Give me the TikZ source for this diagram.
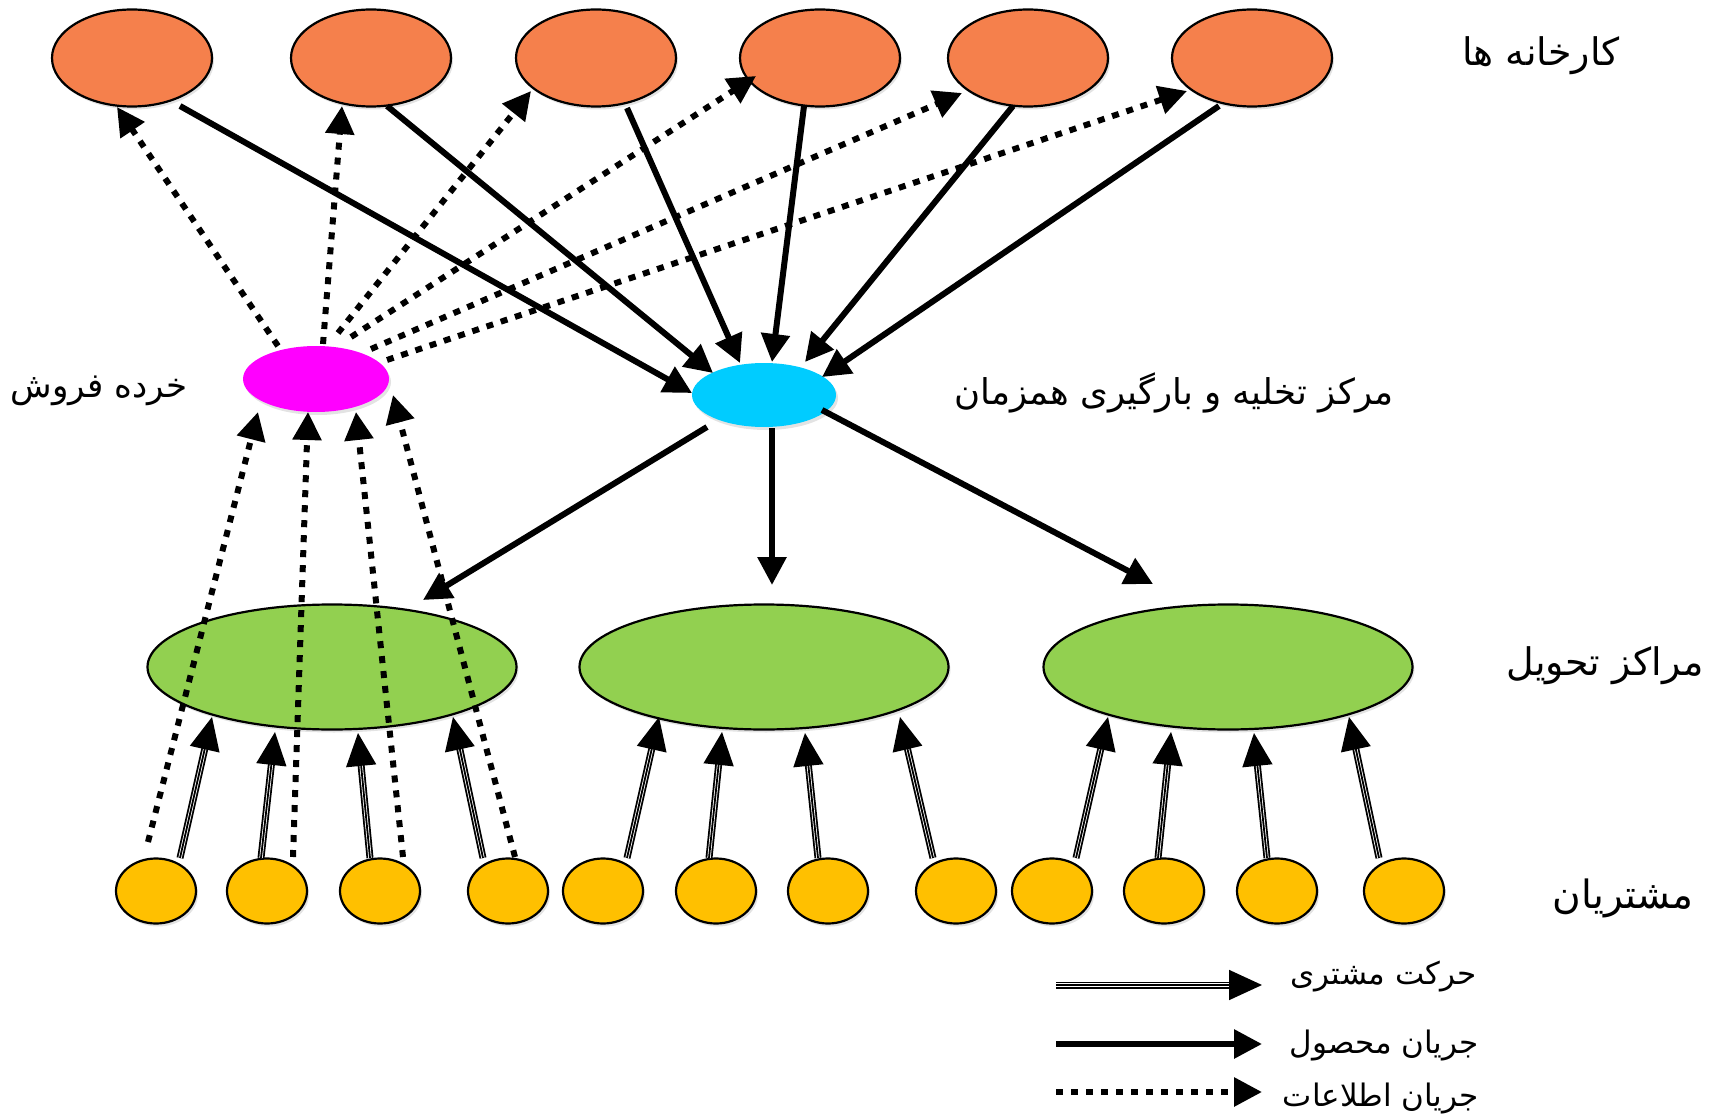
\documentclass[tikz,border=0pt]{standalone}
\usepackage{fontspec}
\usetikzlibrary{arrows.meta,calc,shadows,shapes.geometric}
\newfontfamily\fa[Script=Arabic]{DejaVu Sans}
\TeXXeTstate=1
\definecolor{factoryC}{HTML}{F5804C}
\definecolor{retailC}{HTML}{FF00FF}
\definecolor{dockC}{HTML}{00CCFF}
\definecolor{centerC}{HTML}{92D050}
\definecolor{custC}{HTML}{FFC000}
\newcommand\faText[1]{\fa\beginR #1\endR}
\begin{document}
\begin{tikzpicture}[x=1pt,y=-1pt,
  ell/.style={ellipse, inner sep=0pt, drop shadow={opacity=0.22, shadow xshift=2pt, shadow yshift=-3pt}},
  factory/.style={ell, draw=black, line width=2.2pt, fill=factoryC, minimum width=160pt, minimum height=97pt},
  retail/.style={ell, fill=retailC, minimum width=146pt, minimum height=66pt},
  dock/.style={ell, fill=dockC, minimum width=144pt, minimum height=64pt},
  dcenter/.style={ell, draw=black, line width=2.2pt, fill=centerC, minimum width=369pt, minimum height=125pt},
  cust/.style={ell, draw=black, line width=2.2pt, fill=custC, minimum width=80pt, minimum height=65pt},
  lbl/.style={font=\fa, inner sep=0pt},
  prod/.style={line width=6pt, -{Triangle[length=28pt,width=28pt]}},
  info/.style={line width=6pt, dash pattern=on 7pt off 8pt, -{Triangle[length=28pt,width=28pt]}},
  trishaft/.style={line width=1.8pt, double distance=3.4pt, shorten >=30pt},
  trihead/.style={line width=1.8pt, -{Triangle[length=33pt,width=30pt]}}
]
\useasboundingbox (0,0) rectangle (1711,1115);

% factories
\node[factory] (f1) at (132,58) {};
\node[factory] (f2) at (371,58) {};
\node[factory] (f3) at (596,58) {};
\node[factory] (f4) at (820,58) {};
\node[factory] (f5) at (1028,58) {};
\node[factory] (f6) at (1252,58) {};

% retailer and cross-dock
\node[retail] (r) at (316,379) {};
\node[dock] (cd) at (764,395) {};

% delivery centers
\node[dcenter] (g1) at (332,667) {};
\node[dcenter] (g2) at (764,667) {};
\node[dcenter] (g3) at (1228,667) {};

% customers
\foreach \i/\x in {1/156,2/267,3/380,4/508,5/603,6/716,7/828,8/956,9/1052,10/1164,11/1277,12/1404}
  \node[cust] (c\i) at (\x,891) {};

% labels
\node[lbl, font=\fontsize{38}{44}\selectfont\fa] (tf) at (1541,56) {\faText{کارخانه ها}};
\node[lbl, font=\fontsize{34}{40}\selectfont\fa] (tr) at (99,391) {\faText{خرده فروش}};
\node[lbl, font=\fontsize{35.5}{42}\selectfont\fa] (td) at (1174,393) {\faText{مرکز تخلیه و بارگیری همزمان}};
\node[lbl, font=\fontsize{38}{44}\selectfont\fa] (tg) at (1605,666) {\faText{مراکز تحویل}};
\node[lbl, font=\fontsize{39}{46}\selectfont\fa] (tc) at (1623,898) {\faText{مشتریان}};

% product flow: factories -> cross-dock
\draw[prod] ($(f1)+(48,48)$) -- ($(cd)+(-72,-2)$);
\draw[prod] ($(f2)+(16,48)$) -- ($(cd)+(-51,-22)$);
\draw[prod] ($(f3)+(31,50)$) -- ($(cd)+(-24,-32)$);
\draw[prod] ($(f4)+(-16,48)$) -- ($(cd)+(8,-33)$);
\draw[prod] ($(f5)+(-15,48)$) -- ($(cd)+(41,-33)$);
\draw[prod] ($(f6)+(-33,48)$) -- ($(cd)+(58,-18)$);

% product flow: cross-dock -> delivery centers
\draw[prod] ($(cd)+(-57,32)$) -- ($(g1)+(91,-67)$);
\draw[prod] ($(cd)+(8,33)$) -- ($(g2)+(8,-82)$);
\draw[prod] ($(cd)+(58,15)$) -- ($(g3)+(-75,-83)$);

% information flow: retailer -> factories
\draw[info] ($(r)+(-38,-33)$) -- ($(f1)+(-15,49)$);
\draw[info] ($(r)+(7,-35)$) -- ($(f2)+(-29,48)$);
\draw[info] ($(r)+(22,-46)$) -- ($(f3)+(-65,33)$);
\draw[info] ($(r)+(35,-42)$) -- ($(f4)+(-64,18)$);
\draw[info] ($(r)+(55,-30)$) -- ($(f5)+(-66,35)$);
\draw[info] ($(r)+(71,-19)$) -- ($(f6)+(-65,33)$);

% information flow: customers -> retailer
\draw[info] ($(c1)+(-8,-49)$) -- ($(r)+(-58,33)$);
\draw[info] ($(c2)+(26,-34)$) -- ($(r)+(-8,33)$);
\draw[info] ($(c3)+(23,-34)$) -- ($(r)+(40,33)$);
\draw[info] ($(c4)+(7,-34)$) -- ($(r)+(77,16)$);

% customer movement
\foreach \c/\g/\sx/\tx/\ty in {1/1/24/-120/50, 2/1/-6/-57/65, 3/1/-10/26/66, 4/1/-25/121/50,
                               5/2/24/-105/50, 6/2/-7/-42/65, 7/2/-10/41/66, 8/2/-23/136/50,
                               9/3/24/-120/50, 10/3/-6/-57/65, 11/3/-10/26/66, 12/3/-25/121/50}{
  \draw[trishaft] ($(c\c)+(\sx,-33)$) -- ($(g\g)+(\tx,\ty)$);
  \draw[trihead] ($(c\c)+(\sx,-33)$) -- ($(g\g)+(\tx,\ty)$);
}

% legend
\coordinate (l1a) at (1056,985);  \coordinate (l1b) at (1262,985);
\coordinate (l2a) at (1056,1044); \coordinate (l2b) at (1262,1044);
\coordinate (l3a) at (1056,1092); \coordinate (l3b) at (1262,1092);
\draw[trishaft] (l1a) -- (l1b);
\draw[trihead] (l1a) -- (l1b);
\draw[prod] (l2a) -- (l2b);
\draw[info] (l3a) -- (l3b);
\node[lbl, font=\fontsize{31}{37}\selectfont\fa, anchor=east] (k1) at (1477,977) {\faText{حرکت مشتری}};
\node[lbl, font=\fontsize{31}{37}\selectfont\fa, anchor=east] (k2) at (1479,1045) {\faText{جریان محصول}};
\node[lbl, font=\fontsize{31}{37}\selectfont\fa, anchor=east] (k3) at (1479,1098) {\faText{جریان اطلاعات}};
\end{tikzpicture}
\end{document}
